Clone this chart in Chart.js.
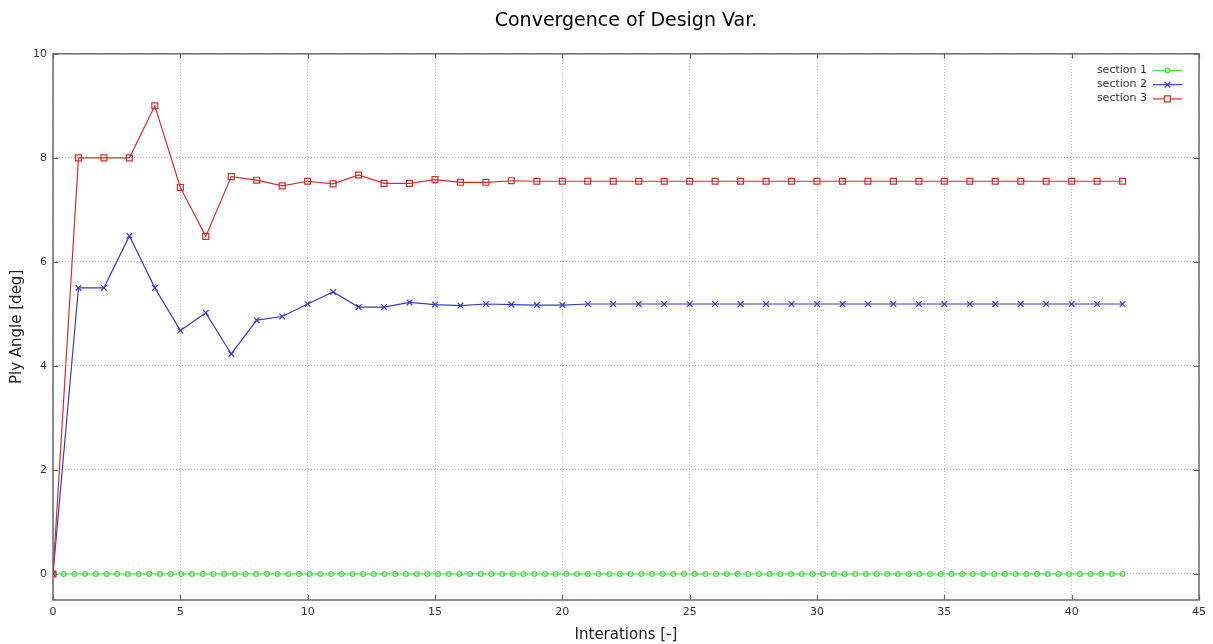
<!DOCTYPE html>
<html>
<head>
<meta charset="utf-8">
<title>Convergence of Design Var.</title>
<script src="https://cdn.jsdelivr.net/npm/chart.js@4"></script>
<style>
  html, body { margin: 0; padding: 0; background: #ffffff; }
  #wrap { width: 1213px; height: 644px; }
</style>
</head>
<body>
<div id="wrap"><canvas id="chart-convergence" width="1213" height="644"></canvas></div>
<script>
// ============================================================================
// DATA
// ============================================================================

const iterations = [0, 1, 2, 3, 4, 5, 6, 7, 8, 9, 10, 11, 12, 13, 14, 15, 16, 17, 18, 19, 20,
  21, 22, 23, 24, 25, 26, 27, 28, 29, 30, 31, 32, 33, 34, 35, 36, 37, 38, 39, 40, 41, 42];

const section2 = [0, 5.5, 5.5, 6.5, 5.5, 4.68, 5.02, 4.23, 4.88, 4.95, 5.19, 5.42, 5.13, 5.13, 5.22,
  5.18, 5.16, 5.19, 5.18, 5.17, 5.17, 5.19, 5.19, 5.19, 5.19, 5.19, 5.19, 5.19, 5.19, 5.19, 5.19,
  5.19, 5.19, 5.19, 5.19, 5.19, 5.19, 5.19, 5.19, 5.19, 5.19, 5.19, 5.19];

const section3 = [0, 8, 8, 8, 9, 7.43, 6.49, 7.64, 7.57, 7.46, 7.55, 7.5, 7.67, 7.51, 7.51,
  7.58, 7.53, 7.53, 7.56, 7.55, 7.55, 7.55, 7.55, 7.55, 7.55, 7.55, 7.55, 7.55, 7.55, 7.55, 7.55,
  7.55, 7.55, 7.55, 7.55, 7.55, 7.55, 7.55, 7.55, 7.55, 7.55, 7.55, 7.55];

// section 1 is sampled more densely than the others
const section1X = [0, 0.42, 0.84, 1.26, 1.68, 2.1, 2.52, 2.94, 3.36, 3.78, 4.2, 4.62, 5.04, 5.46,
  5.88, 6.3, 6.72, 7.14, 7.56, 7.98, 8.4, 8.82, 9.24, 9.66, 10.08, 10.5, 10.92, 11.34, 11.76,
  12.18, 12.6, 13.02, 13.44, 13.86, 14.28, 14.7, 15.12, 15.54, 15.96, 16.38, 16.8, 17.22, 17.64,
  18.06, 18.48, 18.9, 19.32, 19.74, 20.16, 20.58, 21, 21.42, 21.84, 22.26, 22.68, 23.1, 23.52,
  23.94, 24.36, 24.78, 25.2, 25.62, 26.04, 26.46, 26.88, 27.3, 27.72, 28.14, 28.56, 28.98, 29.4,
  29.82, 30.24, 30.66, 31.08, 31.5, 31.92, 32.34, 32.76, 33.18, 33.6, 34.02, 34.44, 34.86, 35.28,
  35.7, 36.12, 36.54, 36.96, 37.38, 37.8, 38.22, 38.64, 39.06, 39.48, 39.9, 40.32, 40.74, 41.16,
  41.58, 42];
const section1Y = [0, 0, 0, 0, 0, 0, 0, 0, 0, 0, 0, 0, 0, 0, 0, 0, 0, 0, 0, 0, 0, 0, 0, 0, 0,
  0, 0, 0, 0, 0, 0, 0, 0, 0, 0, 0, 0, 0, 0, 0, 0, 0, 0, 0, 0, 0, 0, 0, 0, 0, 0, 0, 0, 0, 0, 0,
  0, 0, 0, 0, 0, 0, 0, 0, 0, 0, 0, 0, 0, 0, 0, 0, 0, 0, 0, 0, 0, 0, 0, 0, 0, 0, 0, 0, 0, 0, 0,
  0, 0, 0, 0, 0, 0, 0, 0, 0, 0, 0, 0, 0, 0];

const seriesLabels = ['section 1', 'section 2', 'section 3'];
const xTicks = [0, 5, 10, 15, 20, 25, 30, 35, 40, 45];
const yTicks = [0, 2, 4, 6, 8, 10];

// ============================================================================
// STYLE
// ============================================================================

const COLORS = {
  green: '#46dc46',
  blue: '#3a3ac8',
  red: '#d42c2c',
  text: '#333333',
  grid: '#b4b4b4',
  frame: '#6a6a6a'
};
const FONT = '"DejaVu Sans", Verdana, sans-serif';

function _toPoints(xs, ys) {
  return xs.map((x, i) => ({ x: x, y: ys[i] }));
}

// ============================================================================
// PLUGINS
// ============================================================================

// gnuplot-like frame with inward tick marks on all four sides
const framePlugin = {
  id: 'frame',
  beforeDatasetsDraw(chart) {
    const { ctx, chartArea: a, scales } = chart;
    const len = 5;
    ctx.save();
    ctx.strokeStyle = COLORS.frame;
    ctx.lineWidth = 1.2;
    ctx.beginPath();
    xTicks.forEach(v => {
      const px = Math.round(scales.x.getPixelForValue(v)) + 0.5;
      ctx.moveTo(px, a.bottom); ctx.lineTo(px, a.bottom - len);
      ctx.moveTo(px, a.top); ctx.lineTo(px, a.top + len);
    });
    yTicks.forEach(v => {
      const py = Math.round(scales.y.getPixelForValue(v)) + 0.5;
      ctx.moveTo(a.left, py); ctx.lineTo(a.left + len, py);
      ctx.moveTo(a.right, py); ctx.lineTo(a.right - len, py);
    });
    ctx.stroke();
    ctx.lineWidth = 1.5;
    ctx.strokeRect(a.left, a.top, a.right - a.left, a.bottom - a.top);
    ctx.restore();
  }
};

// legend: label on the left, line sample with marker on the right
const keyPlugin = {
  id: 'key',
  afterDraw(chart) {
    const { ctx } = chart;
    const textRight = 1147;
    const lineStart = 1153;
    const lineEnd = 1182;
    ctx.save();
    ctx.font = '11px ' + FONT;
    ctx.textAlign = 'right';
    ctx.textBaseline = 'middle';
    chart.data.datasets.forEach((ds, i) => {
      const y = 70 + i * 14.2;
      ctx.fillStyle = COLORS.text;
      ctx.fillText(ds.label, textRight, y);
      ctx.strokeStyle = ds.borderColor;
      ctx.lineWidth = 1.2;
      ctx.beginPath();
      ctx.moveTo(lineStart, y + 0.5);
      ctx.lineTo(lineEnd, y + 0.5);
      ctx.stroke();
      ctx.fillStyle = '#ffffff';
      Chart.helpers.drawPoint(ctx, {
        pointStyle: ds.pointStyle,
        radius: ds.pointRadius,
        borderWidth: ds.pointBorderWidth,
        rotation: 0
      }, (lineStart + lineEnd) / 2, y + 0.5);
    });
    ctx.restore();
  }
};

// ============================================================================
// CHART
// ============================================================================

const ctx = document.getElementById('chart-convergence').getContext('2d');

new Chart(ctx, {
  type: 'scatter',
  data: {
    datasets: [
      {
        label: seriesLabels[0],
        data: _toPoints(section1X, section1Y),
        showLine: true,
        borderColor: COLORS.green,
        backgroundColor: 'rgba(255,255,255,0)',
        borderWidth: 1.2,
        pointStyle: 'circle',
        pointRadius: 2.4,
        pointBorderWidth: 1.2,
        pointBorderColor: COLORS.green,
        pointBackgroundColor: 'rgba(255,255,255,0)',
        order: 3
      },
      {
        label: seriesLabels[1],
        data: _toPoints(iterations, section2),
        showLine: true,
        borderColor: COLORS.blue,
        backgroundColor: 'rgba(255,255,255,0)',
        borderWidth: 1.2,
        pointStyle: 'crossRot',
        pointRadius: 4,
        pointBorderWidth: 1.2,
        pointBorderColor: COLORS.blue,
        order: 2
      },
      {
        label: seriesLabels[2],
        data: _toPoints(iterations, section3),
        showLine: true,
        borderColor: COLORS.red,
        backgroundColor: 'rgba(255,255,255,0)',
        borderWidth: 1.2,
        pointStyle: 'rect',
        pointRadius: 4.2,
        pointBorderWidth: 1.2,
        pointBorderColor: COLORS.red,
        pointBackgroundColor: 'rgba(255,255,255,0)',
        order: 1
      }
    ]
  },
  options: {
    responsive: false,
    animation: false,
    layout: { padding: { left: 0, right: 14, top: 0, bottom: 0 } },
    plugins: {
      legend: { display: false },
      tooltip: { enabled: false },
      title: {
        display: true,
        text: 'Convergence of Design Var.',
        fullSize: false,
        color: '#000000',
        font: { family: FONT, size: 19, weight: 'normal', lineHeight: 1.2 },
        padding: { top: 10, bottom: 21 }
      }
    },
    scales: {
      x: {
        type: 'linear',
        min: 0,
        max: 45,
        afterFit: s => { s.height = 44; },
        afterBuildTicks: s => { s.ticks = xTicks.map(v => ({ value: v })); },
        ticks: {
          padding: 6,
          color: COLORS.text,
          font: { family: FONT, size: 11 },
          maxRotation: 0
        },
        grid: { color: COLORS.grid, lineWidth: 1, drawTicks: false },
        border: { display: false, dash: [1, 2] },
        title: {
          display: true,
          text: 'Interations [-]',
          color: '#222222',
          font: { family: FONT, size: 15, lineHeight: 1 },
          padding: { top: 0, bottom: 1 }
        }
      },
      y: {
        type: 'linear',
        min: -0.5,
        max: 10,
        afterFit: s => { s.width = 53; },
        afterBuildTicks: s => { s.ticks = yTicks.map(v => ({ value: v })); },
        ticks: {
          padding: 6,
          color: COLORS.text,
          font: { family: FONT, size: 11 }
        },
        grid: { color: COLORS.grid, lineWidth: 1, drawTicks: false },
        border: { display: false, dash: [1, 2] },
        title: {
          display: true,
          text: 'Ply Angle [deg]',
          color: '#222222',
          font: { family: FONT, size: 15, lineHeight: 1.2 },
          padding: { top: 8, bottom: 0 }
        }
      }
    }
  },
  plugins: [framePlugin, keyPlugin]
});

console.log('✓ Convergence chart rendered');
</script>
</body>
</html>
